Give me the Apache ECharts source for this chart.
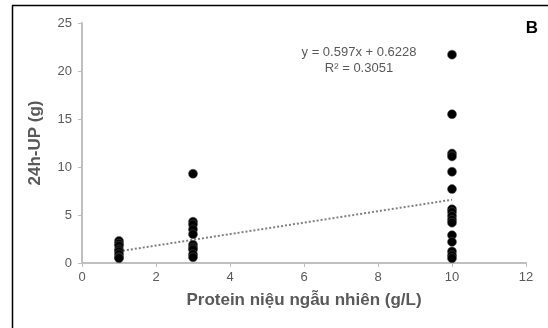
<!DOCTYPE html>
<html>
<head>
<meta charset="utf-8">
<script src="https://cdn.jsdelivr.net/npm/echarts@6/dist/echarts.min.js"></script>
<style>
  html, body { margin: 0; padding: 0; background: #fff; }
  #chart { width: 548px; height: 328px; }
</style>
</head>
<body>
<div id="chart"></div>
<script>
// Random urine protein (g/L) groups and 24h urine protein (g)
const groupX = [1, 3, 10];
const upAt1 = [2.3, 2.0, 1.8, 1.4, 1.2, 0.9, 0.6, 0.5];
const upAt3 = [9.3, 4.3, 4.0, 3.5, 3.0, 1.9, 1.6, 1.4, 0.9, 0.6];
const upAt10 = [21.7, 15.5, 11.4, 11.1, 9.5, 7.7, 5.6, 5.3, 4.9, 4.5, 4.2, 2.9, 2.2, 1.2, 0.8, 0.5];

// Linear trend line end points
const trendX = [1, 10];
const trendY = [1.22, 6.59];

const xTicks = [0, 2, 4, 6, 8, 10, 12];
const yTicks = [0, 5, 10, 15, 20, 25];

const points = [];
[upAt1, upAt3, upAt10].forEach((vals, i) => {
  vals.forEach(v => points.push([groupX[i], v]));
});

const chart = echarts.init(document.getElementById("chart"));
const labelColor = "#595959";
const axisGray = "#bfbfbf";
const font = "Liberation Sans, Arial, sans-serif";

chart.setOption({
  animation: false,
  grid: { left: 82, right: 22, top: 23, bottom: 65 },
  xAxis: {
    type: "value",
    min: xTicks[0],
    max: xTicks[xTicks.length - 1],
    interval: 2,
    name: "Protein niệu ngẫu nhiên (g/L)",
    nameLocation: "middle",
    nameGap: 29,
    nameTextStyle: { color: labelColor, fontSize: 17, fontWeight: "bold", fontFamily: font },
    axisLine: { lineStyle: { color: axisGray, width: 2 } },
    axisTick: { show: true, length: 4, lineStyle: { color: axisGray } },
    axisLabel: { color: labelColor, fontSize: 13, fontFamily: font, margin: 8 },
    splitLine: { show: false }
  },
  yAxis: {
    type: "value",
    min: yTicks[0],
    max: yTicks[yTicks.length - 1],
    interval: 5,
    name: "24h-UP (g)",
    nameLocation: "middle",
    nameGap: 38,
    nameTextStyle: { color: labelColor, fontSize: 17, fontWeight: "bold", fontFamily: font },
    axisLine: { show: true, lineStyle: { color: axisGray, width: 2 } },
    axisTick: { show: true, length: 4, lineStyle: { color: axisGray } },
    axisLabel: { color: labelColor, fontSize: 13, fontFamily: font, margin: 10 },
    splitLine: { show: false }
  },
  series: [
    {
      type: "line",
      data: trendX.map((x, i) => [x, trendY[i]]),
      symbol: "none",
      lineStyle: { color: "#808080", width: 2, type: [2, 2] },
      z: 1
    },
    {
      type: "scatter",
      data: points,
      symbolSize: 9,
      itemStyle: { color: "#000", borderColor: "#555", borderWidth: 0.5, opacity: 1 },
      z: 2
    }
  ],
  graphic: [
    { type: "line", shape: { x1: 12.5, y1: 5.5, x2: 12.5, y2: 328 }, style: { stroke: "#000", lineWidth: 1.5 } },
    { type: "line", shape: { x1: 12, y1: 5.5, x2: 548, y2: 5.5 }, style: { stroke: "#000", lineWidth: 1.5 } },
    {
      type: "text", x: 359, y: 52,
      style: { text: "y = 0.597x + 0.6228", fill: labelColor, font: "13px " + font, textAlign: "center", textVerticalAlign: "middle" }
    },
    {
      type: "text", x: 359, y: 68,
      style: { text: "R² = 0.3051", fill: labelColor, font: "13px " + font, textAlign: "center", textVerticalAlign: "middle" }
    },
    {
      type: "text", x: 532, y: 28,
      style: { text: "B", fill: "#000", font: "bold 17px " + font, textAlign: "center", textVerticalAlign: "middle" }
    }
  ]
});
</script>
</body>
</html>
